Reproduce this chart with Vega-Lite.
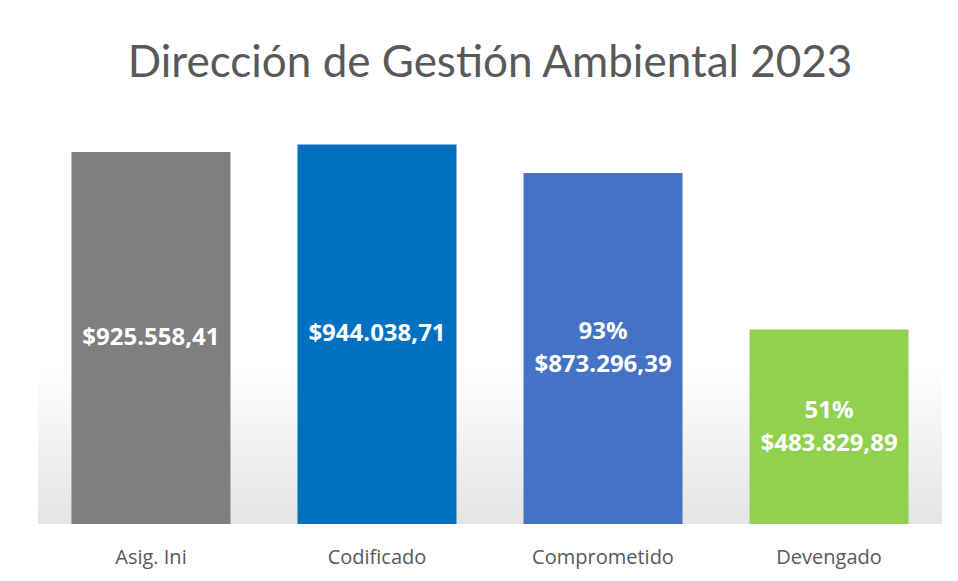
{
  "$schema": "https://vega.github.io/schema/vega-lite/v6.json",
  "autosize": {"type": "none"},
  "width": 904,
  "height": 402,
  "padding": {"left": 38, "top": 122, "right": 16, "bottom": 57},
  "background": "#ffffff",
  "view": {
    "stroke": null,
    "fill": {
      "gradient": "linear",
      "x1": 0, "y1": 0, "x2": 0, "y2": 1,
      "stops": [
        {"offset": 0, "color": "#ffffff"},
        {"offset": 0.6, "color": "#ffffff"},
        {"offset": 1, "color": "#e4e4e4"}
      ]
    }
  },
  "title": {
    "text": "Dirección de Gestión Ambiental 2023",
    "font": "Lato",
    "fontSize": 44,
    "fontWeight": "normal",
    "color": "#595959",
    "anchor": "middle",
    "baseline": "alphabetic",
    "offset": 1
  },
  "data": {
    "values": [
      {"cat": "Asig. Ini", "value": 925558.41, "amount": "$925.558,41", "pct": null},
      {"cat": "Codificado", "value": 944038.71, "amount": "$944.038,71", "pct": null},
      {"cat": "Comprometido", "value": 873296.39, "amount": "$873.296,39", "pct": "93%"},
      {"cat": "Devengado", "value": 483829.89, "amount": "$483.829,89", "pct": "51%"}
    ]
  },
  "layer": [
    {
      "mark": {"type": "bar"},
      "encoding": {
        "x": {
          "field": "cat",
          "type": "nominal",
          "sort": null,
          "scale": {"paddingInner": 0.2965, "paddingOuter": 0.148},
          "axis": {
            "title": null,
            "labelAngle": 0,
            "domain": false,
            "ticks": false,
            "labelFont": "Open Sans",
            "labelFontSize": 20,
            "labelColor": "#595959",
            "labelPadding": 23
          }
        },
        "y": {
          "field": "value",
          "type": "quantitative",
          "scale": {"domain": [0, 1000000], "nice": false},
          "axis": null
        },
        "color": {
          "field": "cat",
          "type": "nominal",
          "sort": null,
          "scale": {
            "domain": ["Asig. Ini", "Codificado", "Comprometido", "Devengado"],
            "range": ["#7f7f7f", "#0070c0", "#4472c4", "#92d050"]
          },
          "legend": null
        }
      }
    },
    {
      "transform": [
        {"filter": "datum.pct == null"},
        {"calculate": "datum.value / 2", "as": "mid"}
      ],
      "mark": {
        "type": "text",
        "font": "Open Sans",
        "fontWeight": "bold",
        "fontSize": 24,
        "color": "#ffffff",
        "align": "center",
        "baseline": "middle"
      },
      "encoding": {
        "x": {"field": "cat", "type": "nominal", "sort": null},
        "y": {"field": "mid", "type": "quantitative"},
        "text": {"field": "amount", "type": "nominal"}
      }
    },
    {
      "transform": [
        {"filter": "datum.pct != null"},
        {"calculate": "datum.value / 2", "as": "mid"},
        {"calculate": "[datum.pct, datum.amount]", "as": "lines"}
      ],
      "mark": {
        "type": "text",
        "font": "Open Sans",
        "fontWeight": "bold",
        "fontSize": 24,
        "color": "#ffffff",
        "align": "center",
        "baseline": "middle",
        "lineHeight": 33,
        "dy": -16
      },
      "encoding": {
        "x": {"field": "cat", "type": "nominal", "sort": null},
        "y": {"field": "mid", "type": "quantitative"},
        "text": {"field": "lines", "type": "nominal"}
      }
    }
  ]
}
